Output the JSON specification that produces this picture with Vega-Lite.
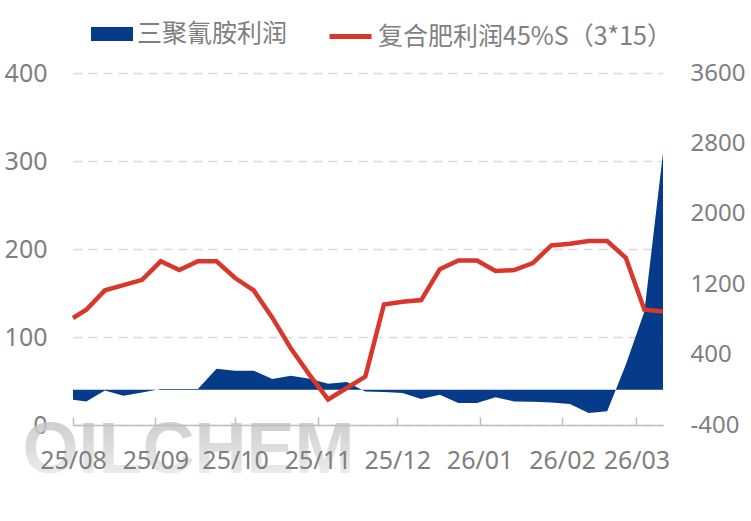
{
  "$schema": "https://vega.github.io/schema/vega-lite/v6.json",
  "width": 590,
  "height": 352,
  "autosize": {"type": "none"},
  "padding": {"left": 73, "top": 73, "right": 88, "bottom": 96},
  "background": "white",
  "config": {"view": {"stroke": null}},
  "data": {"values": [
    {"date": "2025-08-01T00:00:00", "melamine": -112, "compound": 121.6},
    {"date": "2025-08-06T00:00:00", "melamine": -132, "compound": 131},
    {"date": "2025-08-13T00:00:00", "melamine": -7, "compound": 153},
    {"date": "2025-08-20T00:00:00", "melamine": -67, "compound": 159},
    {"date": "2025-08-27T00:00:00", "melamine": -30, "compound": 165},
    {"date": "2025-09-03T00:00:00", "melamine": 9, "compound": 186},
    {"date": "2025-09-10T00:00:00", "melamine": 10, "compound": 176},
    {"date": "2025-09-17T00:00:00", "melamine": 10, "compound": 186},
    {"date": "2025-09-24T00:00:00", "melamine": 240, "compound": 186},
    {"date": "2025-10-01T00:00:00", "melamine": 217, "compound": 167},
    {"date": "2025-10-08T00:00:00", "melamine": 217, "compound": 153},
    {"date": "2025-10-15T00:00:00", "melamine": 123, "compound": 122},
    {"date": "2025-10-22T00:00:00", "melamine": 160, "compound": 87},
    {"date": "2025-10-29T00:00:00", "melamine": 126, "compound": 57},
    {"date": "2025-11-05T00:00:00", "melamine": 69, "compound": 29},
    {"date": "2025-11-12T00:00:00", "melamine": 89, "compound": 42},
    {"date": "2025-11-19T00:00:00", "melamine": -18, "compound": 55},
    {"date": "2025-11-26T00:00:00", "melamine": -25, "compound": 137},
    {"date": "2025-12-03T00:00:00", "melamine": -36, "compound": 140},
    {"date": "2025-12-10T00:00:00", "melamine": -105, "compound": 142},
    {"date": "2025-12-17T00:00:00", "melamine": -56, "compound": 177},
    {"date": "2025-12-24T00:00:00", "melamine": -150, "compound": 187},
    {"date": "2025-12-31T00:00:00", "melamine": -150, "compound": 187},
    {"date": "2026-01-07T00:00:00", "melamine": -86, "compound": 175},
    {"date": "2026-01-14T00:00:00", "melamine": -132, "compound": 176},
    {"date": "2026-01-21T00:00:00", "melamine": -135, "compound": 184},
    {"date": "2026-01-28T00:00:00", "melamine": -143, "compound": 204},
    {"date": "2026-02-04T00:00:00", "melamine": -161, "compound": 206},
    {"date": "2026-02-11T00:00:00", "melamine": -264, "compound": 209},
    {"date": "2026-02-18T00:00:00", "melamine": -245, "compound": 209},
    {"date": "2026-02-25T00:00:00", "melamine": 285, "compound": 190},
    {"date": "2026-03-04T00:00:00", "melamine": 891, "compound": 131},
    {"date": "2026-03-11T00:00:00", "melamine": 2691, "compound": 129}
  ]},
  "encoding": {
    "x": {
      "field": "date",
      "type": "temporal",
      "title": null,
      "scale": {"domain": [{"year": 2025, "month": 8, "date": 1}, {"year": 2026, "month": 3, "date": 11}], "nice": false},
      "axis": {
        "format": "%y/%m",
        "tickCount": {"interval": "month", "step": 1},
        "grid": false,
        "domainColor": "#bfbfbf",
        "domainWidth": 1.5,
        "tickColor": "#bfbfbf",
        "tickWidth": 1.5,
        "tickSize": -8,
        "labelFont": "Noto Sans",
        "labelFontSize": 25,
        "labelColor": "#7f7f7f",
        "labelPadding": 31,
        "labelFlush": false,
        "labelOverlap": false,
        "zindex": 2
      }
    }
  },
  "layer": [
    {
      "data": {"values": [{"wm": "OILCHEM", "wx": "2025-07-13T00:00:00", "wy": -55}]},
      "mark": {
        "type": "text",
        "font": "Liberation Sans",
        "fontWeight": "bold",
        "fontSize": 72,
        "align": "left",
        "baseline": "alphabetic",
        "opacity": 0.85,
        "color": {"gradient": "linear", "x1": 0, "y1": 0, "x2": 0, "y2": 1, "stops": [{"offset": 0, "color": "#bdbdbd"}, {"offset": 1, "color": "#f2f2f2"}]}
      },
      "encoding": {
        "text": {"field": "wm", "type": "nominal"},
        "x": {"field": "wx", "type": "temporal", "title": null},
        "y": {"field": "wy", "type": "quantitative", "title": null, "axis": null, "scale": {"domain": [0, 400], "nice": false, "zero": false}}
      }
    },
    {
      "mark": {"type": "area", "opacity": 1},
      "encoding": {
        "y": {
          "field": "melamine",
          "type": "quantitative",
          "title": null,
          "scale": {"domain": [-400, 3600], "nice": false, "zero": false},
          "axis": {
            "orient": "right",
            "values": [-400, 400, 1200, 2000, 2800, 3600],
            "labelExpr": "'' + datum.value",
            "grid": false,
            "domain": false,
            "ticks": false,
            "labelFont": "Noto Sans",
            "labelFontSize": 24,
            "labelColor": "#7f7f7f",
            "labelPadding": 27
          }
        },
        "fill": {
          "datum": "三聚氰胺利润",
          "type": "nominal",
          "scale": {"domain": ["三聚氰胺利润"], "range": ["#053B89"]},
          "legend": {
            "orient": "none",
            "legendX": 18,
            "legendY": -60,
            "direction": "horizontal",
            "title": null,
            "padding": 0,
            "labelFont": "Noto Sans CJK SC",
            "labelFontSize": 25,
            "labelColor": "#7f7f7f",
            "labelLimit": 400,
            "labelOffset": 4,
            "symbolSize": 1764,
            "symbolType": "M-1,-0.33L1,-0.33L1,0.33L-1,0.33Z",
            "symbolStrokeWidth": 0,
            "symbolOpacity": 1
          }
        }
      }
    },
    {
      "mark": {"type": "line", "strokeWidth": 4.5},
      "encoding": {
        "y": {
          "field": "compound",
          "type": "quantitative",
          "title": null,
          "scale": {"domain": [0, 400], "nice": false},
          "axis": {
            "orient": "left",
            "values": [0, 100, 200, 300, 400],
            "grid": true,
            "gridColor": "#d9d9d9",
            "gridWidth": 1.5,
            "gridDash": [9, 6],
            "domain": false,
            "ticks": false,
            "labelFont": "Noto Sans",
            "labelFontSize": 25,
            "labelColor": "#7f7f7f",
            "labelPadding": 26
          }
        },
        "stroke": {
          "datum": "复合肥利润45%S（3*15）",
          "type": "nominal",
          "scale": {"domain": ["复合肥利润45%S（3*15）"], "range": ["#D9372B"]},
          "legend": {
            "orient": "none",
            "legendX": 254,
            "legendY": -60,
            "direction": "horizontal",
            "title": null,
            "padding": 0,
            "labelFont": "Noto Sans CJK SC",
            "labelFontSize": 25,
            "labelColor": "#7f7f7f",
            "labelLimit": 400,
            "labelOffset": 4,
            "symbolSize": 1764,
            "symbolType": "stroke",
            "symbolStrokeWidth": 5,
            "symbolOpacity": 1
          }
        }
      }
    }
  ],
  "resolve": {"scale": {"y": "independent"}}
}
